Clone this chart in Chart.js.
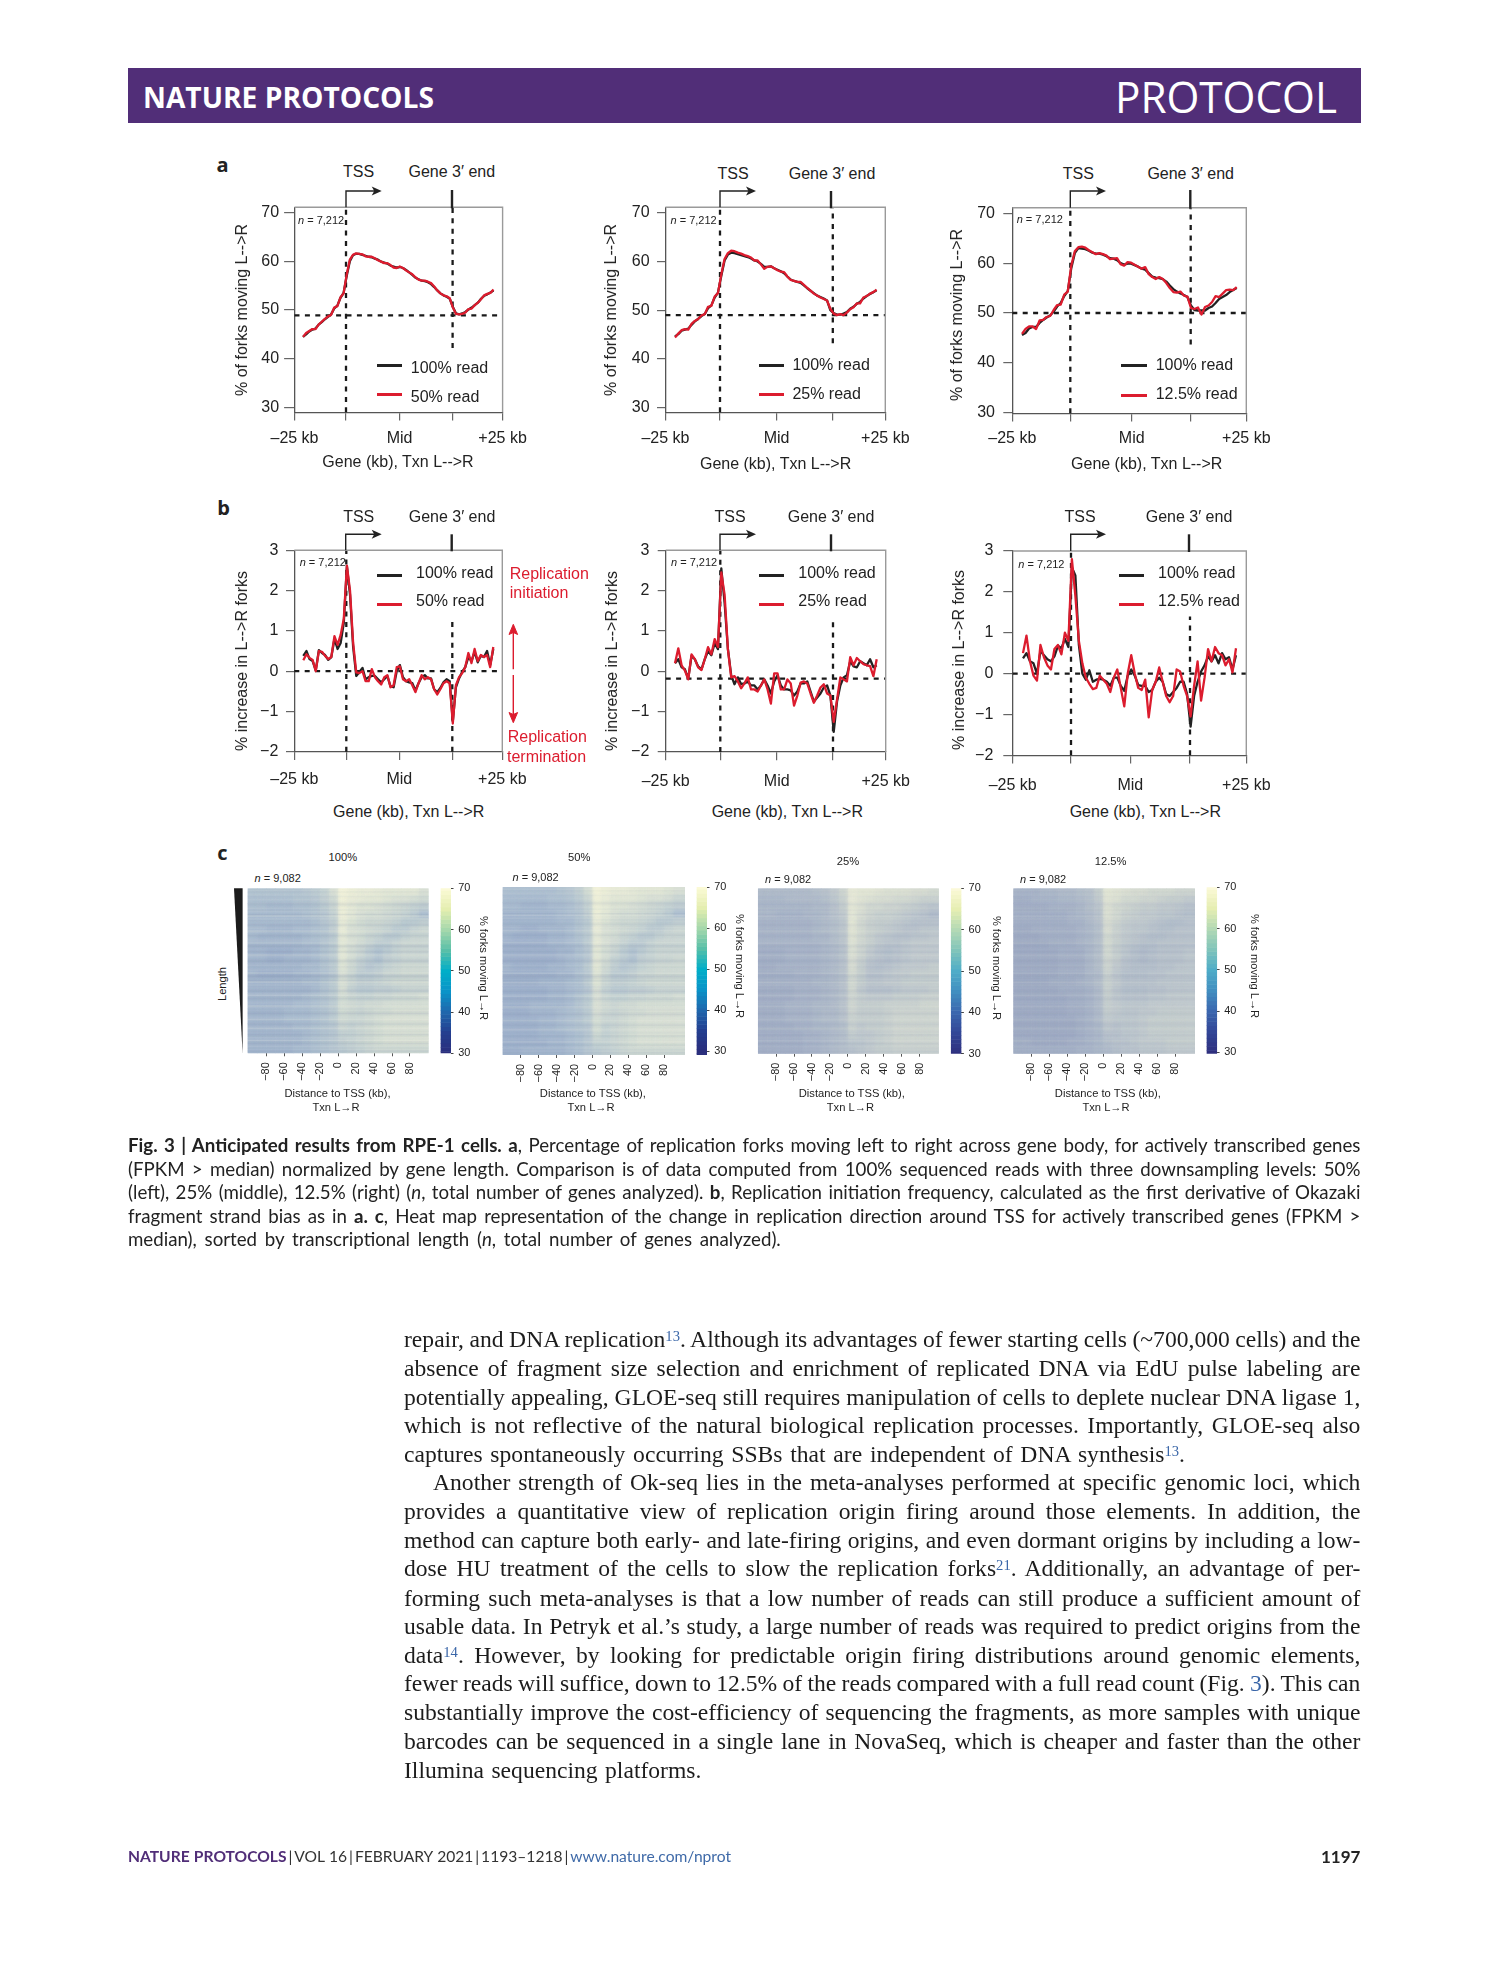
<!DOCTYPE html>
<html><head><meta charset="utf-8">
<style>
html,body{margin:0;padding:0;background:#fff;width:1489px;height:1978px;overflow:hidden}
#page{position:relative;width:1489px;height:1978px;overflow:hidden}
canvas{position:absolute;display:block}
.t{position:absolute;white-space:nowrap;line-height:1;font-family:"Liberation Sans",Arial,sans-serif;color:#222}
.t sup,.j sup{vertical-align:baseline;position:relative;top:-.42em;font-size:.62em;color:#3a66a8;line-height:0}
.j{position:absolute;white-space:nowrap;line-height:1.2}
</style>
<script src="https://cdn.jsdelivr.net/npm/chart.js@4/dist/chart.umd.js"></script>
</head><body><div id="page"></div>
<script>
// ---------- values ----------
const yTicksA=[70,60,50,40,30];
const yTicksB=[3,2,1,0,-1,-2];
const xTickNames=['–25 kb','','Mid','','+25 kb'];
const heatTicks=[-80,-60,-40,-20,0,20,40,60,80];
const barTicks=[70,60,50,40,30];
const barLevels=[29,30,31,32,33,34,35,36,37,38,39,40,41,42,43,44,45,46,47,48,49,50,51,52,53,54,55,56,57,58,59,60,61,62,63,64,65,66,67,68,69,70];
const heatCols=[-95,-85,-75,-65,-55,-45,-35,-25,-15,-5,5,15,25,35,45,55,65,75,85,95];

const a1Black=[44.5,45.0,45.6,46.0,46.2,47.0,47.5,48.1,48.6,49.1,50.3,50.9,52.5,53.5,57.0,60.0,61.2,61.5,61.5,61.3,61.1,60.9,60.8,60.5,60.3,59.9,59.7,59.5,59.1,58.9,58.7,58.8,58.6,58.2,57.7,57.2,56.6,56.3,56.0,55.9,55.7,55.3,54.7,54.0,53.4,53.0,52.7,52.3,50.6,49.3,49.1,49.3,49.6,50.1,50.5,51.0,51.5,52.3,52.9,53.2,53.6,54.0];
const a1Red=[44.5,45.3,45.7,46.1,46.1,47.0,47.6,48.2,48.7,49.0,50.5,50.8,52.6,53.4,57.3,60.3,61.3,61.6,61.5,61.4,61.0,60.9,60.9,60.6,60.2,59.9,59.6,59.6,59.2,58.7,58.6,58.9,58.6,58.1,57.7,57.3,56.7,56.2,56.0,56.0,55.8,55.5,54.8,54.0,53.4,53.0,52.8,52.4,50.5,49.2,49.1,49.2,49.5,50.2,50.3,51.0,51.5,52.2,53.0,53.3,53.5,54.2];
const a2Black=[44.6,45.1,45.8,46.0,46.2,47.0,47.7,48.2,48.8,49.2,50.4,51.0,52.6,53.6,57.0,60.2,61.4,61.8,61.7,61.5,61.3,61.1,60.9,60.6,60.2,60.0,59.5,58.9,58.9,59.0,58.6,58.3,58.0,57.6,56.9,56.3,56.0,55.8,55.6,55.1,54.5,54.0,53.5,53.0,52.7,52.4,52.0,50.0,49.4,49.1,49.1,49.3,49.6,50.3,50.7,51.3,51.7,52.4,52.9,53.3,53.7,54.1];
const a2Red=[44.4,45.2,45.9,46.1,46.0,47.2,47.8,48.2,48.9,49.2,50.7,50.9,52.8,53.5,57.3,60.5,61.7,62.2,62.1,61.8,61.6,61.3,61.1,60.8,60.2,60.2,59.4,58.5,58.9,59.0,58.6,58.2,57.9,57.8,56.9,56.2,56.0,55.8,55.8,55.2,54.6,54.0,53.4,53.0,52.6,52.3,52.0,50.3,49.3,49.0,49.2,49.0,49.5,50.2,50.6,51.4,51.4,52.6,52.9,53.4,53.7,54.2];
const a3Black=[45.6,46.0,46.9,47.2,47.2,48.0,48.6,49.1,49.5,50.3,51.3,52.0,53.4,54.4,59.0,62.0,63.0,62.9,62.8,62.5,62.1,61.9,61.9,61.7,61.4,61.0,60.9,60.6,60.0,59.7,59.9,59.9,59.6,59.3,58.9,58.7,58.0,57.3,57.1,57.0,56.8,56.3,55.5,54.8,54.3,53.9,53.6,53.2,51.5,50.6,50.5,50.5,50.5,51.0,51.3,52.0,52.8,53.2,53.6,54.2,54.6,55.0];
const a3Red=[45.8,46.8,47.3,47.3,46.8,48.5,48.6,49.2,49.4,50.6,51.6,51.7,53.7,54.3,59.5,62.4,63.2,63.3,63.1,62.6,62.2,61.8,62.0,61.8,61.5,60.8,60.9,61.0,59.8,59.5,60.2,60.1,59.7,59.3,58.9,59.2,57.8,57.2,56.8,57.2,56.8,56.0,55.0,54.2,54.1,54.3,53.5,53.3,51.0,50.8,51.1,49.7,51.2,51.5,52.2,53.4,53.2,53.9,54.6,54.7,54.6,55.2];
const b1Black=[.38,.5,.3,.25,.02,.52,.45,.4,.28,.35,.8,.55,.7,1.2,2.6,1.9,.6,-.12,-.02,.08,-.2,-.15,-.12,-.12,-.2,-.28,-.2,-.12,-.38,-.4,0,.15,-.15,-.25,-.28,-.3,-.48,-.3,-.15,-.1,-.18,-.18,-.45,-.52,-.42,-.28,-.2,-.25,-1.25,-.4,-.18,-.02,.1,.35,.25,.48,.22,.38,.35,.5,.15,.55];
const b1Red=[.27,.42,.33,.28,0,.5,.48,.38,.3,.35,.87,.65,.9,1.3,2.62,2.0,.7,-.03,-.05,0,-.25,-.25,.05,-.15,-.25,-.33,-.15,-.1,-.4,-.35,.1,.12,-.2,-.25,-.2,-.35,-.52,-.3,-.1,-.2,-.15,-.2,-.45,-.58,-.45,-.3,-.25,-.3,-1.3,-.35,-.15,-.05,.1,.45,.2,.55,.25,.4,.35,.4,.1,.6];
const b2Black=[.2,.3,.1,.05,-.18,.38,.3,.12,.05,.3,.5,.4,.7,.55,2.55,1.7,.55,-.1,-.32,-.15,-.32,-.3,-.25,-.35,-.35,-.45,-.35,-.2,-.35,-.55,-.25,-.1,-.35,-.45,-.45,-.47,-.6,-.5,-.3,-.3,-.25,-.5,-.75,-.65,-.55,-.4,-.35,-.6,-1.5,-.75,-.35,-.15,-.1,.25,.12,.1,.25,.2,.15,.3,.1,.15];
const b2Red=[.2,.57,.15,.02,-.2,.42,.3,.1,.03,.3,.6,.42,.8,.6,2.45,1.9,.55,-.15,-.12,-.25,-.42,-.3,-.15,-.45,-.45,-.5,-.35,-.2,-.45,-.8,-.05,-.05,-.45,-.45,-.2,-.3,-.85,-.6,-.28,-.25,-.3,-.55,-.78,-.6,-.4,-.32,-.55,-.6,-1.25,-.7,-.15,-.2,-.25,.35,.15,.33,.25,.18,.15,.13,-.12,.3];
const b3Black=[.37,.5,.3,.25,0,.55,.45,.35,.3,.42,.68,.62,.85,.65,2.6,2.4,.7,0,-.15,.08,-.2,-.15,-.13,-.15,-.2,-.3,-.1,-.1,-.3,-.42,-.05,.1,-.05,-.28,-.3,-.3,-.45,-.4,-.2,-.1,-.2,-.5,-.55,-.45,-.35,-.2,-.2,-.5,-1.3,-.55,-.2,.05,.2,.42,.3,.45,.25,.5,.35,.4,.1,.45];
const b3Red=[.5,.93,.3,-.05,-.17,.7,.4,.2,.1,.6,.7,.47,1.0,.8,2.8,1.9,.8,.25,-.1,-.25,-.38,-.35,-.05,-.15,-.25,-.45,-.1,.1,-.35,-.8,0,.45,0,-.35,-.4,-.15,-1.07,-.4,-.2,.15,-.2,-.55,-.7,-.55,.1,.05,-.3,-.55,-1.05,-.3,.3,-.66,-.1,.6,.3,.65,.5,.45,.2,.35,.03,.62];

const heat100=[
[50,50,50,50,50,50,51,52,54,58,65,63,62,62,61,60,60,60,60,58],
[49,49,49,49,49,50,50,51,53,56,64,62,61,60,60,59,58,58,57,56],
[49,49,48,48,48,49,49,50,52,55,63,61,59,59,58,57,56,55,54,53],
[48,48,48,48,48,48,49,50,51,54,63,60,58,57,57,56,55,54,52,49],
[48,48,48,48,48,48,48,49,51,53,62,59,57,56,56,55,54,52,52,53],
[48,48,47,47,47,48,48,49,50,53,62,58,57,56,55,54,52,52,54,55],
[48,47,47,47,47,47,48,49,50,52,61,58,57,55,54,52,52,54,55,55],
[47,47,47,47,47,47,48,48,50,52,60,58,56,54,52,52,54,55,55,55],
[47,47,46,46,46,47,47,48,50,52,60,57,55,52,50,52,54,55,55,55],
[47,47,46,46,47,47,47,48,50,52,60,57,54,52,50,53,54,55,55,55],
[47,47,47,47,47,47,48,48,50,52,59,56,53,51,52,54,55,56,56,56],
[47,46,46,46,46,47,47,48,49,51,58,55,52,52,53,55,55,56,56,56],
[47,47,47,47,47,47,48,48,50,52,58,55,53,53,54,55,56,56,56,56],
[47,47,47,47,47,47,47,48,50,52,58,54,52,52,53,53,54,55,55,55],
[47,47,47,47,47,47,48,49,50,52,57,55,54,54,55,55,56,56,56,57],
[47,47,47,47,47,48,48,49,50,52,57,56,55,56,56,57,57,57,57,57],
[47,47,47,47,48,48,48,49,50,52,57,56,55,56,57,57,58,58,58,58],
[47,47,47,47,48,48,48,49,50,52,56,55,55,56,57,58,58,58,58,58],
[47,47,47,47,47,48,48,49,50,51,55,54,55,56,57,58,58,58,58,58],
[47,47,47,47,47,47,48,49,50,51,54,54,55,56,57,58,58,58,58,58],
[47,47,47,47,47,47,48,49,50,51,53,54,55,56,57,58,58,58,58,58],
[47,47,47,47,47,48,48,49,50,51,52,53,54,55,56,56,56,56,56,56]];
const heat50=[
[49,49,49,49,49,49,50,51,53,57,65,63,62,62,61,60,60,60,59,58],
[48,48,48,48,48,49,49,50,52,55,64,62,60,60,60,59,58,58,57,55],
[48,48,47,47,47,48,48,49,51,54,63,61,59,59,58,57,56,55,54,53],
[47,47,47,47,47,47,48,49,50,53,63,60,58,57,57,56,55,54,52,49],
[47,47,47,47,47,47,48,48,50,52,62,59,57,56,56,55,54,52,52,53],
[47,47,46,46,47,47,47,48,50,52,62,58,57,56,55,54,52,52,54,55],
[47,46,46,46,46,47,47,48,50,52,61,58,57,55,54,52,52,54,55,55],
[46,46,46,46,46,47,47,48,49,52,61,58,56,54,52,52,54,55,55,55],
[46,46,46,46,46,46,47,47,49,51,60,57,55,52,50,52,54,55,55,55],
[46,46,46,46,46,46,47,48,49,51,60,57,54,52,50,53,54,55,55,56],
[47,46,46,46,46,47,47,48,49,52,60,56,53,51,52,54,55,56,56,56],
[46,46,46,46,46,46,47,47,49,51,59,55,52,52,53,55,55,56,56,56],
[46,46,46,46,47,47,47,48,49,52,59,55,53,53,54,55,56,56,56,56],
[46,46,46,46,46,47,47,48,49,51,58,54,52,52,53,53,54,55,55,55],
[46,46,46,46,46,47,47,48,50,52,58,55,54,54,55,55,56,56,56,57],
[46,46,46,47,47,47,47,48,50,52,58,56,55,56,56,57,57,57,57,57],
[46,46,46,47,47,47,48,49,50,52,58,56,55,56,57,57,58,58,58,58],
[46,46,46,46,47,47,48,49,50,52,57,55,55,56,57,58,58,58,58,58],
[46,46,46,46,47,47,48,49,50,51,57,54,55,56,57,58,58,58,58,58],
[46,46,46,46,47,47,47,48,49,51,56,54,55,56,57,58,58,58,58,58],
[46,46,46,46,46,47,47,48,49,51,54,54,55,56,57,58,58,58,58,58],
[46,46,47,47,47,47,47,48,49,51,52,53,54,55,56,56,56,56,56,56]];
const heat25=[
[50,50,50,50,50,50,51,52,54,57,63,62,62,61,60,60,60,59,59,58],
[49,49,49,50,50,50,50,51,53,56,63,61,60,59,59,58,58,57,56,56],
[49,49,49,49,49,49,50,50,52,55,62,60,58,58,57,57,56,55,54,53],
[49,49,48,48,48,49,49,50,52,54,62,59,57,56,56,55,54,53,52,50],
[48,48,48,48,48,48,49,50,51,53,62,58,56,55,55,54,53,52,52,52],
[48,48,48,48,48,48,49,50,51,53,61,58,56,55,54,53,52,52,53,53],
[48,48,48,48,48,48,49,49,51,53,61,58,56,54,53,52,52,53,53,54],
[48,48,48,48,48,48,48,49,50,52,60,57,55,53,52,52,53,54,54,54],
[47,47,47,48,48,48,48,49,50,52,60,57,54,52,51,52,53,54,54,54],
[47,47,47,48,48,48,48,49,50,52,59,56,53,52,51,52,53,54,54,54],
[47,47,48,48,48,48,48,49,50,52,59,55,52,51,52,53,54,54,54,55],
[47,47,47,47,48,48,48,49,50,52,58,55,52,52,53,54,54,55,55,55],
[48,48,48,48,48,48,49,49,50,52,58,55,53,53,54,54,55,55,55,55],
[47,47,47,47,48,48,48,49,50,52,58,54,52,52,52,53,54,54,54,55],
[47,47,47,47,48,48,48,49,50,52,57,55,54,54,54,55,55,55,56,56],
[47,47,47,48,48,48,49,49,50,52,57,55,55,55,56,56,56,56,57,57],
[47,47,47,48,48,48,49,50,50,52,57,55,55,55,56,57,57,57,57,57],
[47,47,47,48,48,48,49,50,50,52,56,55,55,55,56,57,57,57,57,57],
[47,47,47,47,48,48,49,49,50,51,56,54,55,55,56,57,57,57,57,57],
[47,47,47,47,47,48,48,49,50,51,55,54,54,55,56,57,57,57,57,57],
[47,47,47,47,47,48,48,49,50,51,53,53,54,55,56,57,57,57,57,57],
[47,47,47,47,47,48,48,49,50,51,52,53,54,55,55,56,56,56,56,56]];
const heat125=[
[48,48,48,49,49,50,50,51,52,55,62,61,60,59,59,58,58,58,57,57],
[47,47,48,48,48,49,49,50,51,54,61,60,58,58,57,57,56,55,55,54],
[47,47,47,47,48,48,48,49,51,53,60,58,57,56,55,55,54,54,53,52],
[47,47,47,47,47,47,48,49,50,52,60,58,56,55,54,54,53,53,52,51],
[47,47,47,47,47,47,48,48,50,52,59,57,55,54,54,53,52,51,51,52],
[46,46,47,47,47,47,47,48,49,51,59,56,54,53,53,52,51,51,52,52],
[46,46,46,47,47,47,47,48,49,51,58,56,54,53,52,51,51,52,52,52],
[46,46,46,46,47,47,47,48,49,51,58,55,53,52,51,51,52,52,52,52],
[46,46,46,46,46,47,47,47,49,51,58,55,53,51,50,51,52,52,52,53],
[46,46,46,46,46,47,47,47,49,51,57,55,52,51,50,51,52,52,52,53],
[46,46,46,46,46,47,47,47,49,51,57,54,52,51,51,51,52,52,53,53],
[46,46,46,46,46,47,47,47,49,50,56,53,51,51,51,52,52,53,53,53],
[46,46,46,46,47,47,47,48,49,51,56,54,52,52,52,52,53,53,53,53],
[46,46,46,46,46,47,47,47,48,50,56,53,51,51,51,52,52,53,53,53],
[46,46,46,46,46,46,47,47,48,50,55,53,52,52,52,53,53,54,54,54],
[46,46,46,46,46,46,47,47,48,50,55,54,53,53,53,54,54,54,54,54],
[46,46,46,46,46,46,47,47,48,50,55,54,53,53,54,54,55,55,55,55],
[46,46,46,46,46,46,46,47,48,50,54,53,53,53,54,55,55,55,55,55],
[46,46,46,46,46,46,46,47,48,49,53,52,53,53,54,55,55,55,55,55],
[46,46,46,46,46,46,46,47,48,49,52,52,53,53,54,55,55,55,55,55],
[47,47,46,46,46,46,47,47,48,49,51,52,52,53,54,54,54,55,55,55],
[47,47,47,47,47,47,47,48,48,49,50,51,52,52,53,53,53,54,54,54]];
const rowStripes=[0,1,-1,0,1,-1,0,1,0,-1,-3,-2,0,1,-1,1,0,-3,3,0,1,-1,0,-1,-3,-1,1,0,3,1,-1,-3,-1,0,1,1,3,-1,-4,-2,0,-1,-3,0,3,1,0,-2,-4,-2,0,1,-1,0,1,0,3,-2,-5,-3,-1,-3,3,0,1,-1,0,-2,-4,-1,1,3,-1,-3,-1,0,1,0,3,1,-1,0,-2,-4,-1,0,1,3,0,-1,-3,-1,1,3,0,-1,0,-3,-1,1,0,3,-1,-3,0,1,-1,0,-3,-1];

// ---------- page geometry and styling ----------
const FONT='"Liberation Sans",Arial,sans-serif';
Chart.defaults.font.family=FONT; Chart.defaults.color='#222';
const BLACK='#222222', RED='#dc1c2e';
const page=document.getElementById('page');
const noPad=s=>{s.paddingLeft=s.paddingRight=s.paddingTop=s.paddingBottom=0;s.getPadding=()=>({left:0,top:0,right:0,bottom:0});};

function T(html,x,y,o={}){
  const d=document.createElement('div'); d.className='t'; d.innerHTML=html;
  d.style.left=x+'px'; d.style.top=y+'px'; d.style.fontSize=(o.size||16)+'px';
  if(o.color)d.style.color=o.color; if(o.weight)d.style.fontWeight=o.weight; if(o.font)d.style.fontFamily=o.font;
  const tx=o.anchor==='l'?'0':o.anchor==='r'?'-100%':'-50%';
  let tr=`translate(${tx},-50%)`;
  if(o.rot)tr+=` rotate(${o.rot}deg)`;
  d.style.transform=tr; page.appendChild(d);
  if(o.fit){const w=d.getBoundingClientRect().width;d.style.transformOrigin='left center';d.style.transform=tr+` scaleX(${o.fit/w})`;}
  return d;
}
function J(html,x,y,w,size,font,color){
  const d=document.createElement('div'); d.className='j'; d.innerHTML=html;
  d.style.cssText+=`left:${x}px;top:${y}px;font-size:${size}px;font-family:${font};color:${color};transform:translateY(-50%);`;
  page.appendChild(d);
  const nat=d.getBoundingClientRect().width, n=(d.textContent.match(/ /g)||[]).length;
  if(n)d.style.wordSpacing=((w-nat)/n)+'px';
  return d;
}
function box(x,y,w,h,c){const d=document.createElement('div');d.style.cssText=`position:absolute;left:${x}px;top:${y}px;width:${w}px;height:${h}px;background:${c}`;page.appendChild(d);return d;}

// header
box(127.7,68,1233,54.7,'#512e78');
T('NATURE PROTOCOLS',143,96.3,{anchor:'l',size:29,weight:700,font:'"Open Sans",sans-serif',color:'#fff',fit:291});
T('PROTOCOL',1115,96.2,{anchor:'l',size:43,font:'"Open Sans",sans-serif',color:'#fff',fit:222});
const LET='"Open Sans",sans-serif';
T('a',222.5,165,{size:20,weight:700,font:LET});
T('b',223.5,507.5,{size:20,weight:700,font:LET});
T('c',222.5,852.5,{size:20,weight:700,font:LET});

// svg overlay for the gene diagram marks
const svg=[];
function bracket(x,yTop,yBase,xEnd,endX,endTop,endBot,col='#222'){
  svg.push(`<path d="M${x} ${yBase}V${yTop}H${xEnd-4}" fill="none" stroke="${col}" stroke-width="1.4"/>`);
  svg.push(`<path d="M${xEnd} ${yTop}L${xEnd-10} ${yTop-4.5}L${xEnd-7.5} ${yTop}L${xEnd-10} ${yTop+4.5}Z" fill="${col}"/>`);
  svg.push(`<path d="M${endX} ${endTop}V${endBot}" fill="none" stroke="${col}" stroke-width="2.4"/>`);
}
svg.push(`<path d="M234 888.3H242.6V1053.3Z" fill="#1c1c1c"/>`);
svg.push(`<path d="M513.3 669.3V630" stroke="${RED}" stroke-width="1.4" fill="none"/><path d="M513.3 624.3L509 634.5L513.3 632.5L517.6 634.5Z" fill="${RED}" stroke="${RED}"/>`);
svg.push(`<path d="M513.3 675V717" stroke="${RED}" stroke-width="1.4" fill="none"/><path d="M513.3 722.7L509 712.5L513.3 714.5L517.6 712.5Z" fill="${RED}" stroke="${RED}"/>`);

const linePanels=[
 {black:a1Black,red:a1Red,ticks:yTicksA,name:'50% read',left:294.5,right:502.6,top:207.3,bottom:412.3,yA:212.3,yB:407.7,dl:303,dr:493.5,tss:346,mid:399.6,end:452.6,h:48.9,endFrom:42.2,endTo:71,tickLen:10.4,yPad:5,xPad:9.4,
  yt:['% of forks moving L-->R',242.4,310],xt:['Gene (kb), Txn L-->R',398,461.7],arrow:[346,191,381.7,452,190],tssT:[358.6,171.7],endT:[451.8,171.7],n:[298,220],leg:[376.6,402,365.7,394.3,410.8,367.7,396.7]},
 {black:a2Black,red:a2Red,ticks:yTicksA,name:'25% read',left:665.4,right:885.3,top:207.3,bottom:412.3,yA:212.7,yB:407.7,dl:675,dr:876.6,tss:720,mid:776.6,end:832.8,h:49,endFrom:43.2,endTo:71,tickLen:8.4,yPad:7.4,xPad:9.2,
  yt:['% of forks moving L-->R',610.8,310],xt:['Gene (kb), Txn L-->R',775.6,463.7],arrow:[720,191,756,831,191],tssT:[733,173.7],endT:[832,173.7],n:[670.5,220],leg:[758.8,784.3,365.7,394.3,792.4,364.7,393.7]},
 {black:a3Black,red:a3Red,ticks:yTicksA,name:'12.5% read',left:1012.3,right:1246.3,top:207.7,bottom:413.3,yA:213.3,yB:412.7,dl:1022,dr:1236.7,tss:1070.3,mid:1131.7,end:1190.7,h:50,endFrom:43.7,endTo:71,tickLen:9,yPad:8.3,xPad:8.7,
  yt:['% of forks moving L-->R',957,315],xt:['Gene (kb), Txn L-->R',1146.7,463.7],arrow:[1070.3,191,1106,1190.3,190],tssT:[1078.3,173.7],endT:[1190.7,173.7],n:[1016.7,219],leg:[1121.3,1146.7,365.7,395,1155.7,364.7,393.7]},
 {black:b1Black,red:b1Red,ticks:yTicksB,name:'50% read',left:294.3,right:502.3,top:550.3,bottom:751.7,yA:550.3,yB:751.7,dl:303.3,dr:493.3,tss:346.3,mid:399.3,end:452.3,h:0,endFrom:-2,endTo:1.3,tickLen:8.3,yPad:7.7,xPad:11,
  yt:['% increase in L-->R forks',241.7,660.5],xt:['Gene (kb), Txn L-->R',408.7,811.7],arrow:[345.7,534.3,381.7,451.7,534.3],tssT:[358.7,516.7],endT:[452,516.7],n:[299.7,562.3],leg:[377,402.3,575.7,604.3,416,572.7,600.7]},
 {black:b2Black,red:b2Red,ticks:yTicksB,name:'25% read',left:665.7,right:885.7,top:550.3,bottom:752,yA:550.3,yB:752,dl:675,dr:876.7,tss:720.3,mid:776.7,end:833,h:-.18,endFrom:-2,endTo:1.31,tickLen:8,yPad:8.4,xPad:12.4,
  yt:['% increase in L-->R forks',612.3,660.8],xt:['Gene (kb), Txn L-->R',787.3,811.7],arrow:[720,534.3,756,831,534.3],tssT:[730,517.3],endT:[831,517.3],n:[671,562.3],leg:[759.3,784.3,575.7,604.3,798.3,572.7,600.7]},
 {black:b3Black,red:b3Red,ticks:yTicksB,name:'12.5% read',left:1012.7,right:1246.3,top:551,bottom:755.3,yA:551,yB:755.3,dl:1023,dr:1236,tss:1071,mid:1130.3,end:1190,h:0,endFrom:-2,endTo:1.4,tickLen:9.4,yPad:10,xPad:13.4,
  yt:['% increase in L-->R forks',959.3,660],xt:['Gene (kb), Txn L-->R',1145.3,811.7],arrow:[1070.7,534.3,1106,1189,534.3],tssT:[1080,516.7],endT:[1189,516.7],n:[1018.3,563.7],leg:[1118.7,1144,575.7,604.3,1158,572.7,600.7]},
];

function mount(cx,cy,cw,ch){
  const c=document.createElement('canvas');c.width=cw;c.height=ch;c.style.left=cx+'px';c.style.top=cy+'px';c.style.width=cw+'px';c.style.height=ch+'px';page.appendChild(c);return c;
}
const framePlugin={id:'frame',afterDatasetsDraw(ch){
  const {ctx,chartArea:a}=ch;ctx.save();ctx.strokeStyle='#9a9a9a';ctx.lineWidth=1.4;ctx.beginPath();
  ctx.moveTo(a.left,a.top);ctx.lineTo(a.right,a.top);ctx.lineTo(a.right,a.bottom);ctx.stroke();ctx.restore();
}};

linePanels.forEach(p=>{
  const step=(p.dr-p.dl)/(p.black.length-1), toBin=px=>(px-p.dl)/step;
  const vA=p.ticks[0], vB=p.ticks[p.ticks.length-1], k=(p.yB-p.yA)/(vA-vB);
  const yMax=vA+(p.yA-p.top)/k, yMin=vB-(p.bottom-p.yB)/k;
  const cx=Math.floor(p.left-50), cw=Math.ceil(p.right+40)-cx, cy=Math.floor(p.top-12), ch=Math.ceil(p.bottom+45)-cy;
  const xMin=toBin(p.left), xMax=toBin(p.right), xTickVals=[xMin,toBin(p.tss),toBin(p.mid),toBin(p.end),xMax];
  const ref=(pts)=>({data:pts,borderColor:'#1a1a1a',borderWidth:2.3,borderDash:[5,5.4],pointRadius:0,order:3,clip:false,tension:0});
  new Chart(mount(cx,cy,cw,ch),{type:'line',
    data:{datasets:[
      {label:p.name,data:p.red.map((y,x)=>({x,y})),borderColor:RED,borderWidth:2.3,pointRadius:0,order:1,tension:0,borderJoinStyle:'round'},
      {label:'100% read',data:p.black.map((y,x)=>({x,y})),borderColor:BLACK,borderWidth:2.3,pointRadius:0,order:2,tension:0,borderJoinStyle:'round'},
      ref([{x:xMin,y:p.h},{x:xMax,y:p.h}]),
      ref([{x:toBin(p.tss),y:yMin},{x:toBin(p.tss),y:yMax}]),
      ref([{x:toBin(p.end),y:p.endFrom},{x:toBin(p.end),y:Math.min(p.endTo,yMax)}])
    ]},
    plugins:[framePlugin],
    options:{responsive:false,animation:false,devicePixelRatio:1,
      layout:{autoPadding:false,padding:{left:0,right:cx+cw-p.right,top:p.top-cy,bottom:0}},
      plugins:{legend:{display:false},tooltip:{enabled:false}},
      scales:{
        x:{type:'linear',min:xMin,max:xMax,
          afterFit:s=>{s.height=cy+ch-p.bottom;noPad(s)},
          afterBuildTicks:s=>{s.ticks=xTickVals.map(value=>({value}))},
          grid:{drawOnChartArea:false,drawTicks:true,tickLength:8.3,color:'#666',lineWidth:1.2},
          border:{display:true,color:'#555',width:1.3},
          ticks:{autoSkip:false,maxRotation:0,minRotation:0,padding:p.xPad-1,font:{size:16},color:'#222',callback:(v,i)=>xTickNames[i]}},
        y:{type:'linear',min:yMin,max:yMax,
          afterFit:s=>{s.width=p.left-cx;noPad(s)},
          afterBuildTicks:s=>{s.ticks=p.ticks.map(value=>({value}))},
          grid:{drawOnChartArea:false,drawTicks:true,tickLength:p.tickLen,color:'#666',lineWidth:1.2},
          border:{display:true,color:'#555',width:1.3},
          ticks:{autoSkip:false,padding:p.yPad,font:{size:16},color:'#222',callback:v=>String(v).replace('-','−')}}
      }}});
  T(p.yt[0],p.yt[1],p.yt[2],{size:16,rot:-90});
  T(p.xt[0],p.xt[1],p.xt[2],{size:16});
  T('TSS',p.tssT[0],p.tssT[1],{size:16});
  T('Gene 3′ end',p.endT[0],p.endT[1],{size:16});
  T('<i>n</i> = 7,212',p.n[0],p.n[1],{anchor:'l',size:11});
  const L=p.leg;
  box(L[0],L[2]-1.5,L[1]-L[0],3,BLACK);
  box(L[0],L[3]-1.5,L[1]-L[0],3,RED);
  T('100% read',L[4],L[5],{anchor:'l',size:16});
  T(p.name,L[4],L[6],{anchor:'l',size:16});
  bracket(p.arrow[0],p.arrow[1],p.top,p.arrow[2],p.arrow[3],p.arrow[4],p.top+1);
});
T('Replication',509.7,573.7,{anchor:'l',size:16,color:RED});
T('initiation',509.7,592.7,{anchor:'l',size:16,color:RED});
T('Replication',507.7,736.7,{anchor:'l',size:16,color:RED});
T('termination',507,756.7,{anchor:'l',size:16,color:RED});

// ---------- heat maps ----------
const heatRampA=[[42,142,160,194],[46,160,178,204],[48,170,188,208],[52,188,203,210],[56,206,216,211],[60,225,230,214],[65,241,241,218]];
const heatRampB=[[42,144,156,188],[46,160,172,196],[48,168,180,200],[52,184,194,204],[56,200,208,207],[60,218,223,211],[65,236,237,217]];
const barRampA=[[30,42,46,124],[35,36,62,143],[40,31,102,172],[45,10,147,200],[50,0,174,200],[55,88,191,168],[60,165,216,172],[65,228,238,176],[70,251,250,214]];
const barRampB=[[30,46,47,126],[35,50,70,150],[40,59,102,174],[45,66,142,192],[50,78,172,200],[55,128,196,186],[60,179,217,181],[65,230,238,178],[70,251,249,216]];
function rampColor(r,v){
  if(v<=r[0][0])return `rgb(${r[0][1]},${r[0][2]},${r[0][3]})`;
  for(let i=1;i<r.length;i++){ if(v<=r[i][0]){const a=r[i-1],b=r[i],t=(v-a[0])/(b[0]-a[0]);
    return `rgb(${a[1]+(b[1]-a[1])*t},${a[2]+(b[2]-a[2])*t},${a[3]+(b[3]-a[3])*t})`;}}
  const l=r[r.length-1];return `rgb(${l[1]},${l[2]},${l[3]})`;
}
const cellPlugin={id:'cells',beforeDatasetsDraw(ch){
  const {ctx,chartArea:a,scales:{x,y}}=ch;
  ctx.save();ctx.beginPath();ctx.rect(a.left,a.top,a.right-a.left,a.bottom-a.top);ctx.clip();
  const draw=(ds)=>{ds.data.forEach(c=>{
      let x0=x.getPixelForValue(c.x-ds.cellW/2), x1=x.getPixelForValue(c.x+ds.cellW/2);
      if(ds.stretch){ if(c.x-ds.cellW/2<=heatCols[0]-5)x0=a.left; if(c.x+ds.cellW/2>=heatCols[heatCols.length-1]+5)x1=a.right; }
      const y0=y.getPixelForValue(c.y-ds.cellH/2), y1=y.getPixelForValue(c.y+ds.cellH/2);
      ctx.fillStyle=ds.paint(c.v);
      ctx.fillRect(x0,Math.min(y0,y1),x1-x0+.5,Math.abs(y1-y0)+(ds.kind==='stripe'?0:.5));
  });};
  ch.data.datasets.forEach(ds=>{ if(ds.kind==='heat'){ draw(ds); ctx.filter='blur(2px)'; draw(ds); ctx.filter='none'; } });
  ch.data.datasets.forEach(ds=>{ if(ds.kind==='bar'||ds.kind==='stripe')draw(ds); });
  ctx.restore();
}};
const heatPanels=[
 {grid:heat100,ramp:heatRampA,bramp:barRampA,gain:1,title:'100%',left:247.5,right:428.6,top:888.3,bottom:1053.3,zero:338.2,bl:440.4,br:451,bTop:888.3,bBot:1053.3,t70:888.3,t30:1053.3,tt:[342.9,858.3],n:[254.6,878.3],cb:[482.9,968],cl:[337.5,336]},
 {grid:heat50,ramp:heatRampA,bramp:barRampA,gain:.8,title:'50%',left:502.5,right:685,top:887,bottom:1055,zero:592.5,bl:696.4,br:707,bTop:887,bBot:1055,t70:887,t30:1051,tt:[579.3,858.3],n:[512.5,877.3],cb:[739.3,966],cl:[592.9,591]},
 {grid:heat25,ramp:heatRampB,bramp:barRampB,gain:.55,title:'25%',left:757.9,right:938.9,top:888.3,bottom:1053.7,zero:847.9,bl:950.7,br:961.4,bTop:888.3,bBot:1053.7,t70:888.3,t30:1053.7,tt:[847.9,862.3],n:[765,879.3],cb:[996.4,968.3],cl:[851.8,850.4]},
 {grid:heat125,ramp:heatRampB,bramp:barRampB,gain:.45,title:'12.5%',left:1013.2,right:1195,top:888.3,bottom:1053.7,zero:1103.2,bl:1206.4,br:1217.1,bTop:887.3,bBot:1053.7,t70:887.3,t30:1052.3,tt:[1110.7,862.3],n:[1020,879.3],cb:[1254.3,966],cl:[1107.9,1106]},
];
const KB=.8975;
heatPanels.forEach(p=>{
  const rows=p.grid.length, rowsPerStripe=rows/rowStripes.length;
  const cells=[];p.grid.forEach((row,r)=>row.forEach((v,c)=>cells.push({x:heatCols[c],y:r+.5,v})));
  const stripes=rowStripes.map((v,r)=>({x:0,y:(r+.5)*rowsPerStripe,v}));
  const cx=Math.floor(p.left),cy=Math.floor(p.top),cw=Math.ceil(p.right)-cx,ch=Math.ceil(p.bottom+35)-cy;
  new Chart(mount(cx,cy,cw,ch),{type:'scatter',
    data:{datasets:[
      {kind:'heat',cellW:10,cellH:1,stretch:true,data:cells,pointRadius:0,paint:v=>rampColor(p.ramp,v)},
      {kind:'stripe',cellW:400,cellH:rowsPerStripe,data:stripes,pointRadius:0,
       paint:v=>v<0?`rgba(110,125,160,${-v*.04*p.gain})`:`rgba(250,250,235,${v*.06*p.gain})`}
    ]},
    plugins:[cellPlugin],
    options:{responsive:false,animation:false,devicePixelRatio:1,
      layout:{autoPadding:false,padding:{left:p.left-cx,right:cx+cw-p.right,top:p.top-cy,bottom:0}},
      plugins:{legend:{display:false},tooltip:{enabled:false}},
      scales:{
        x:{type:'linear',min:(p.left-p.zero)/KB,max:(p.right-p.zero)/KB,
          afterFit:s=>{s.height=cy+ch-p.bottom;noPad(s)},
          afterBuildTicks:s=>{s.ticks=heatTicks.map(value=>({value}))},
          grid:{drawOnChartArea:false,drawTicks:true,tickLength:3,color:'#555',lineWidth:1},
          border:{display:false},
          ticks:{autoSkip:false,minRotation:90,maxRotation:90,padding:6,font:{size:10.9},color:'#222',callback:v=>String(v).replace('-','−')}},
        y:{type:'linear',min:0,max:rows,reverse:true,display:false}
      }}});
  // colour bar
  const k=(p.t30-p.t70)/40, bMax=70+(p.t70-p.bTop)/k, bMin=30-(p.bBot-p.t30)/k;
  const bx=Math.floor(p.bl),by=Math.floor(p.bTop)-8,bw=Math.ceil(p.br+28)-bx,bh=Math.ceil(p.bBot)+8-by;
  new Chart(mount(bx,by,bw,bh),{type:'scatter',
    data:{datasets:[{kind:'bar',cellW:1,cellH:1,data:barLevels.map(v=>({x:.5,y:v,v})),pointRadius:0,paint:v=>rampColor(p.bramp,v)}]},
    plugins:[cellPlugin],
    options:{responsive:false,animation:false,devicePixelRatio:1,
      layout:{autoPadding:false,padding:{left:p.bl-bx,right:0,top:p.bTop-by,bottom:by+bh-p.bBot}},
      plugins:{legend:{display:false},tooltip:{enabled:false}},
      scales:{
        x:{type:'linear',min:0,max:1,display:false},
        y:{type:'linear',position:'right',min:bMin,max:bMax,
          afterFit:s=>{s.width=bx+bw-p.br;noPad(s)},
          afterBuildTicks:s=>{s.ticks=barTicks.map(value=>({value}))},
          grid:{drawOnChartArea:false,drawTicks:true,tickLength:2.5,color:'#444',lineWidth:1},
          border:{display:false},
          ticks:{autoSkip:false,padding:4.7,font:{size:10.9},color:'#222',callback:v=>String(v)}}
      }}});
  T(p.title,p.tt[0],p.tt[1],{size:11.2});
  T('<i>n</i> = 9,082',p.n[0],p.n[1],{anchor:'l',size:11});
  T('% forks moving L→R',p.cb[0],p.cb[1],{size:11.1,rot:90});
  T('Distance to TSS (kb),',p.cl[0],1094,{size:11.2});
  T('Txn L→R',p.cl[1],1108.3,{size:11.2});
});
T('Length',223.2,983.7,{size:11.1,rot:-90});

const sv=document.createElementNS('http://www.w3.org/2000/svg','svg');
sv.setAttribute('width','1489');sv.setAttribute('height','1978');sv.style.cssText='position:absolute;left:0;top:0;pointer-events:none';
sv.innerHTML=svg.join('');page.appendChild(sv);

// ---------- caption ----------
const CAP='Lato,sans-serif';
const capLines=[
 ['<b>Fig. 3 | Anticipated results from RPE-1 cells. a</b>, Percentage of replication forks moving left to right across gene body, for actively transcribed genes',1144.7,1232.4],
 ['(FPKM &gt; median) normalized by gene length. Comparison is of data computed from 100% sequenced reads with three downsampling levels: 50%',1169,1232.4],
 ['(left), 25% (middle), 12.5% (right) (<i>n</i>, total number of genes analyzed). <b>b</b>, Replication initiation frequency, calculated as the first derivative of Okazaki',1192.3,1232.4],
 ['fragment strand bias as in <b>a. c</b>, Heat map representation of the change in replication direction around TSS for actively transcribed genes (FPKM &gt;',1215.7,1232.4],
 ['median), sorted by transcriptional length (<i>n</i>, total number of genes analyzed).',1239,652.8]];
capLines.forEach(l=>J(l[0],128,l[1],l[2],18.7,CAP,'#222'));

// ---------- body text ----------
const SER='"Liberation Serif",serif';
const bodyLines=[
 ['repair, and DNA replication<sup>13</sup>. Although its advantages of fewer starting cells (~700,000 cells) and the',1339,404,956.4],
 ['absence of fragment size selection and enrichment of replicated DNA via EdU pulse labeling are',1368.3,404,956.4],
 ['potentially appealing, GLOE-seq still requires manipulation of cells to deplete nuclear DNA ligase 1,',1396.7,404,956.4],
 ['which is not reflective of the natural biological replication processes. Importantly, GLOE-seq also',1425.3,404,956.4],
 ['captures spontaneously occurring SSBs that are independent of DNA synthesis<sup>13</sup>.',1454.3,404,781],
 ['Another strength of Ok-seq lies in the meta-analyses performed at specific genomic loci, which',1482.3,433,927.4],
 ['provides a quantitative view of replication origin firing around those elements. In addition, the',1511.3,404,956.4],
 ['method can capture both early- and late-firing origins, and even dormant origins by including a low-',1540,404,956.4],
 ['dose HU treatment of the cells to slow the replication forks<sup>21</sup>. Additionally, an advantage of per-',1568.3,404,956.4],
 ['forming such meta-analyses is that a low number of reads can still produce a sufficient amount of',1597.7,404,956.4],
 ['usable data. In Petryk et al.’s study, a large number of reads was required to predict origins from the',1626.3,404,956.4],
 ['data<sup>14</sup>. However, by looking for predictable origin firing distributions around genomic elements,',1654.7,404,956.4],
 ['fewer reads will suffice, down to 12.5% of the reads compared with a full read count (Fig. <span style="color:#3a66a8">3</span>). This can',1683.3,404,956.4],
 ['substantially improve the cost-efficiency of sequencing the fragments, as more samples with unique',1711.7,404,956.4],
 ['barcodes can be sequenced in a single lane in NovaSeq, which is cheaper and faster than the other',1740.7,404,956.4],
 ['Illumina sequencing platforms.',1769.7,404,297.4]];
bodyLines.forEach(l=>J(l[0],l[2],l[1],l[3],23.6,SER,'#1c1c1c'));

// ---------- footer ----------
J('<b style="color:#512e78">NATURE PROTOCOLS</b>&#8201;|&#8201;VOL 16&#8201;|&#8201;FEBRUARY 2021&#8201;|&#8201;1193–1218&#8201;|&#8201;<span style="color:#3f6aa8">www.nature.com/nprot</span>',128,1855.5,603,15.6,CAP,'#333');
T('1197',1360.4,1855.5,{anchor:'r',size:17,weight:700,font:CAP,color:'#222'});
</script></body></html>
